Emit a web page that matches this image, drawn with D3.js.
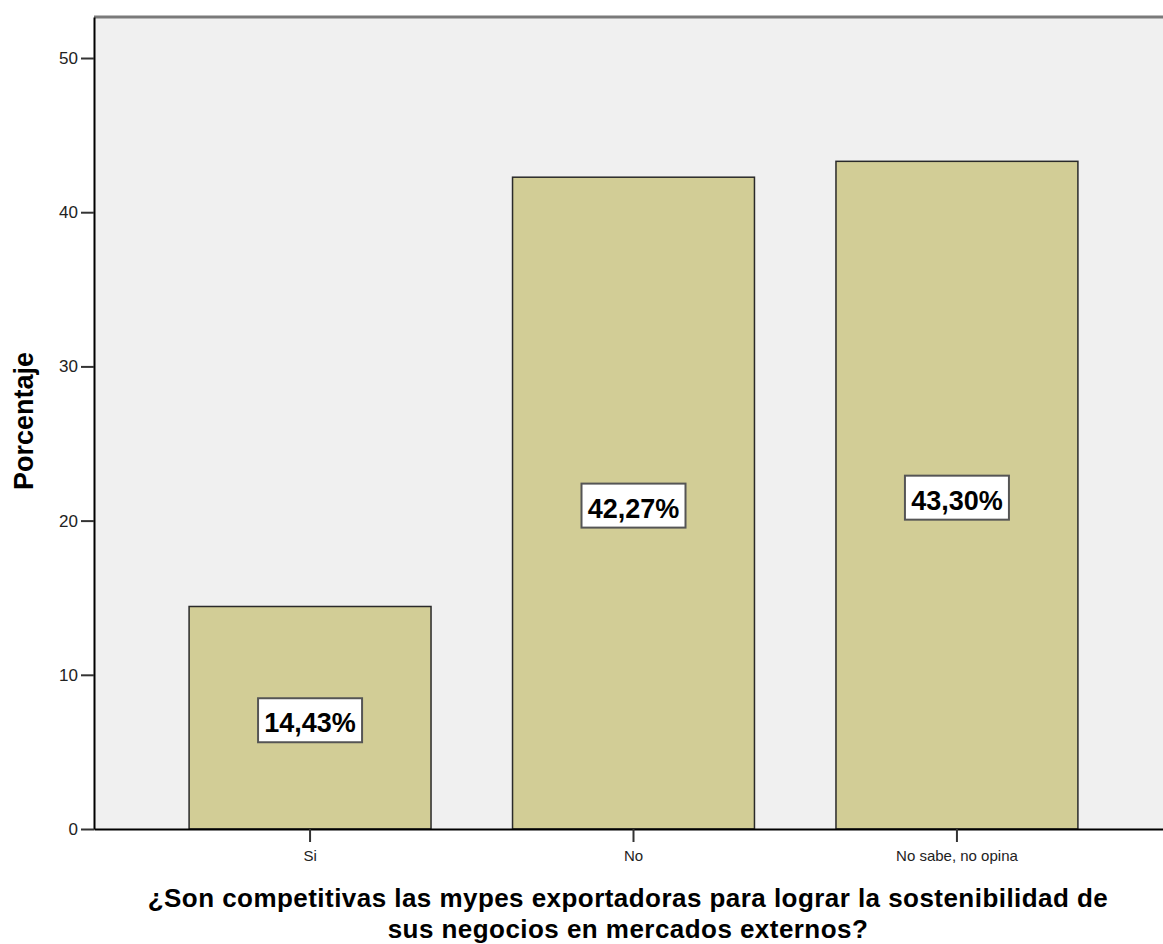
<!DOCTYPE html>
<html><head><meta charset="utf-8">
<script src="https://cdn.jsdelivr.net/npm/d3@7"></script>
<style>body{margin:0;background:#fff;} svg{display:block;}</style>
</head><body>
<svg id="c" width="1163" height="944"></svg>
<script>
const categories = ["Si", "No", "No sabe, no opina"];
const values = [14.43, 42.27, 43.30];
const valueLabels = ["14,43%", "42,27%", "43,30%"];
const yTicks = [0, 10, 20, 30, 40, 50];
const yTitle = "Porcentaje";
const xTitleLines = ["¿Son competitivas las mypes exportadoras para lograr la sostenibilidad de", "sus negocios en mercados externos?"];

(function () {
const svg = d3.select("#c");
const font = "'Liberation Sans', Arial, sans-serif";
const pLeft = 94, pTop = 17, pRight = 1173, pBottom = 829;

const y = d3.scaleLinear().domain([0, 52.66]).range([pBottom, pTop]);
const x = d3.scaleBand().domain(categories).range([pLeft, pRight]).paddingInner(0.252).paddingOuter(0.294);

svg.append("rect").attr("x", pLeft).attr("y", pTop).attr("width", pRight - pLeft).attr("height", pBottom - pTop).attr("fill", "#f0f0f0");
svg.append("line").attr("x1", pLeft).attr("x2", pRight).attr("y1", pTop).attr("y2", pTop).attr("stroke", "#7a7a7a").attr("stroke-width", 3);

svg.selectAll("rect.bar").data(values).enter().append("rect").attr("class", "bar")
  .attr("x", (d, i) => x(categories[i]))
  .attr("y", d => y(d))
  .attr("width", x.bandwidth())
  .attr("height", d => pBottom - y(d))
  .attr("fill", "#d2cd96").attr("stroke", "#2a2a2a").attr("stroke-width", 1.5);

const yAxis = d3.axisLeft(y).tickValues(yTicks).tickSize(13).tickSizeOuter(0).tickPadding(3).tickFormat(d3.format("d"));
const gy = svg.append("g").attr("transform", `translate(${pLeft},0)`).call(yAxis);
gy.select(".domain").attr("stroke", "#000").attr("stroke-width", 2);
gy.selectAll(".tick line").attr("stroke", "#333").attr("stroke-width", 2);
gy.selectAll(".tick text").attr("font-family", font).attr("font-size", 17).attr("fill", "#222");

const xAxis = d3.axisBottom(x).tickSize(13).tickSizeOuter(0).tickPadding(8);
const gx = svg.append("g").attr("transform", `translate(0,${pBottom})`).call(xAxis);
gx.select(".domain").attr("stroke", "#000").attr("stroke-width", 2);
gx.selectAll(".tick line").attr("stroke", "#333").attr("stroke-width", 2);
gx.selectAll(".tick text").attr("font-family", font).attr("font-size", 15).attr("fill", "#222");

const lab = svg.selectAll("g.lab").data(values).enter().append("g").attr("class", "lab")
  .attr("transform", (d, i) => `translate(${x(categories[i]) + x.bandwidth() / 2},${y(d / 2)})`);
lab.append("rect").attr("x", -52).attr("y", -19.5).attr("width", 104).attr("height", 44)
  .attr("fill", "#fff").attr("stroke", "#555").attr("stroke-width", 2);
lab.append("text").attr("text-anchor", "middle").attr("y", 14.5)
  .attr("font-family", font).attr("font-weight", "bold").attr("font-size", 27).attr("fill", "#000")
  .text((d, i) => valueLabels[i]);

svg.append("text").attr("transform", `translate(33,421) rotate(-90)`).attr("text-anchor", "middle")
  .attr("font-family", font).attr("font-weight", "bold").attr("font-size", 27).attr("fill", "#000").text(yTitle);
svg.selectAll("text.xt").data(xTitleLines).enter().append("text").attr("class", "xt")
  .attr("x", 628).attr("y", (d, i) => 907 + i * 31).attr("text-anchor", "middle")
  .attr("letter-spacing", "0.45px")
  .attr("font-family", font).attr("font-weight", "bold").attr("font-size", 26).attr("fill", "#000").text(d => d);
})();
</script>
</body></html>
